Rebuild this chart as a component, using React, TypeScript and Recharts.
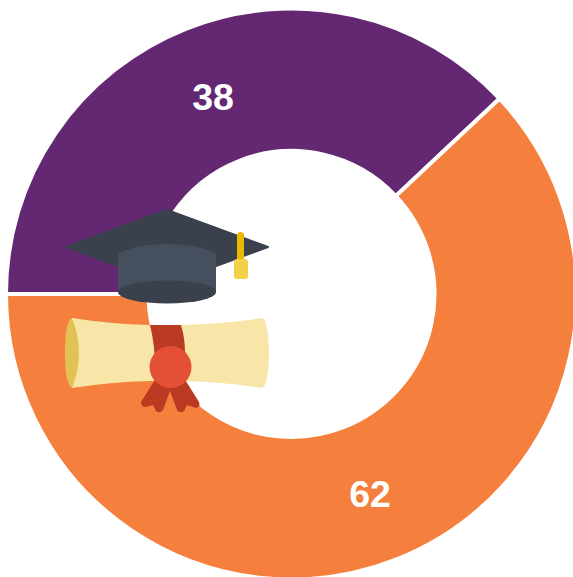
import { PieChart, Pie, Cell } from 'recharts';

const categories = ['Purple', 'Orange'];
const values = [38, 62];
const colors = ['#642873', '#f5803e'];

const data = categories.map((name, i) => ({ name, value: values[i] }));

const RADIAN = Math.PI / 180;

const renderLabel = ({ cx, cy, midAngle, innerRadius, outerRadius, value }: any) => {
  const r = (innerRadius + outerRadius) / 2 - 1;
  const x = cx + r * Math.cos(-midAngle * RADIAN);
  const y = cy + r * Math.sin(-midAngle * RADIAN) + 1.5;
  return (
    <text
      x={x}
      y={y}
      fill="#fff"
      textAnchor="middle"
      dominantBaseline="central"
      style={{ fontFamily: '"Liberation Sans", Arial, sans-serif', fontSize: 37.5, fontWeight: 700 }}
    >
      {value}
    </text>
  );
};

const CapAndScroll = () => (
  <svg width={573} height={577} style={{ position: 'absolute', left: 0, top: 0 }}>
    {/* scroll */}
    <path
      d="M72 318 Q110 324 150 325 L181 325 Q225 324 262 318 Q266 319 268 335 Q270 353 268 371 Q266 387 262 388 Q225 382 181 381 L150 381 Q110 382 72 388 Z"
      fill="#f8e6a9"
    />
    <path d="M72 318 Q79 335 79 353 Q79 371 72 388 Q65 384 65 353 Q65 322 72 318 Z" fill="#e3c255" />
    <path d="M150 325 L181 325 Q185 338 185 352 L185 368 L155 368 Q155 345 150 325 Z" fill="#bb3a22" />
    <path
      d="M156 378 L141 402 Q141 407 146 407 L153 405 L156 411 Q160 414 163 410 L170 391 L177 410 Q180 414 184 411 L187 405 L196 408 Q201 407 199 402 L184 378 Z"
      fill="#bb3a22"
    />
    <circle cx={170.5} cy={367} r={21} fill="#e35035" />
    {/* cap */}
    <path d="M167 210 L268 247 L167 284 L66 247 Z" fill="#3a414d" stroke="#3a414d" strokeWidth={2} strokeLinejoin="round" />
    <path d="M118 254 Q135 244 167 244 Q199 244 216 254 L216 292 L118 292 Z" fill="#464f5d" />
    <ellipse cx={167} cy={292} rx={49} ry={11.5} fill="#3a414d" />
    <rect x={237} y={232} width={7} height={32} rx={3.5} fill="#e8b900" />
    <rect x={234} y={259} width={14} height={20} rx={3} fill="#f2d047" />
  </svg>
);

export default function App() {
  return (
    <div style={{ position: 'absolute', left: 0, top: 0, width: 573, height: 577, overflow: 'hidden' }}>
      <PieChart width={573} height={577} margin={{ top: 0, right: 0, bottom: 0, left: 0 }}>
        <Pie
          data={data}
          dataKey="value"
          cx={291.5}
          cy={294}
          innerRadius={143}
          outerRadius={285.5}
          startAngle={180}
          endAngle={-180}
          stroke="#fff"
          strokeWidth={4}
          label={renderLabel}
          labelLine={false}
          isAnimationActive={false}
        >
          {data.map((d, i) => (
            <Cell key={d.name} fill={colors[i]} />
          ))}
        </Pie>
      </PieChart>
      <CapAndScroll />
    </div>
  );
}
